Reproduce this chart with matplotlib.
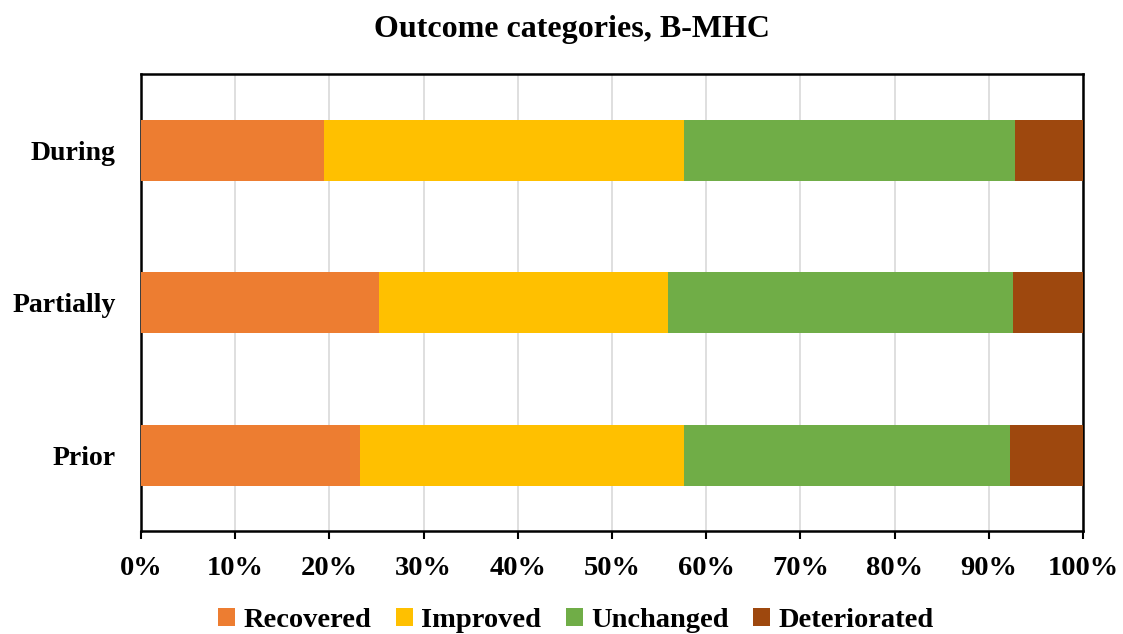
import matplotlib.pyplot as plt
import numpy as np
from matplotlib.ticker import FuncFormatter

plt.rcParams['font.family'] = ['Liberation Serif', 'DejaVu Serif']
plt.rcParams['font.weight'] = 'bold'

# Share of participants per outcome category (%)
periods = ['Prior', 'Partially', 'During']
recovered = [23.3, 25.3, 19.4]
improved = [34.3, 30.6, 38.2]
unchanged = [34.6, 36.7, 35.2]
deteriorated = [7.8, 7.4, 7.2]

series = [('Recovered', recovered, '#ED7D31'),
          ('Improved', improved, '#FFC000'),
          ('Unchanged', unchanged, '#70AD47'),
          ('Deteriorated', deteriorated, '#9E480E')]

fig, ax = plt.subplots(figsize=(11.23, 6.34), dpi=100)
fig.subplots_adjust(left=0.1255, right=0.9645, top=0.883, bottom=0.162)

y = np.arange(len(periods))
left = np.zeros(len(periods))
for name, vals, color in series:
    vals = np.array(vals)
    ax.barh(y, vals, left=left, height=0.4, color=color, label=name, zorder=3)
    left += vals

ax.set_xlim(0, 100)
ax.set_ylim(-0.5, 2.5)
ax.set_xticks(np.arange(0, 101, 10))
ax.xaxis.set_major_formatter(FuncFormatter(lambda v, p: f'{v:.0f}%'))
ax.set_yticks(y)
ax.set_yticklabels(periods)
ax.tick_params(axis='x', labelsize=20.5, length=6, width=1.5, direction='out', pad=12)
ax.tick_params(axis='y', labelsize=20, length=0, pad=18)
ax.grid(axis='x', color='#D9D9D9', linewidth=1.2, zorder=0)
for s in ax.spines.values():
    s.set_linewidth(1.8)
    s.set_color('black')

fig.suptitle('Outcome categories, B-MHC', x=0.509, y=0.977, fontsize=23,
             fontweight='bold')
handles, labels = ax.get_legend_handles_labels()
fig.legend(handles, labels, loc='center', bbox_to_anchor=(0.513, 0.022), ncol=4,
           frameon=False, fontsize=20.5, handlelength=0.6, handleheight=0.6,
           handletextpad=0.3, columnspacing=0.85)

fig.savefig('out.png', dpi=100)
